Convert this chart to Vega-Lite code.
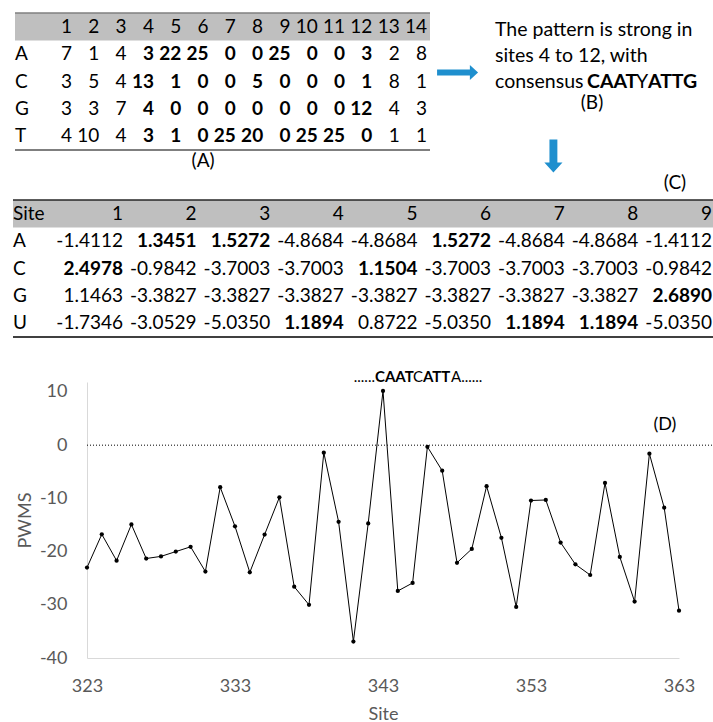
{
  "$schema": "https://vega.github.io/schema/vega-lite/v6.json",
  "width": 592,
  "height": 276,
  "padding": {"left": 87, "top": 382, "right": 34, "bottom": 64},
  "autosize": {"type": "none"},
  "background": "#ffffff",
  "config": {
    "view": {"stroke": null},
    "font": "Lato",
    "text": {"font": "Lato", "fontSize": 19, "color": "#000000"},
    "locale": {"number": {"decimal": ".", "thousands": ",", "grouping": [3], "currency": ["$", ""], "minus": "-"}}
  },
  "datasets": {
    "one": [{"k": 1}],
    "tA": [
      {"r":"A","c":1,"v":7},{"r":"A","c":2,"v":1},{"r":"A","c":3,"v":4},{"r":"A","c":4,"v":3},{"r":"A","c":5,"v":22},{"r":"A","c":6,"v":25},{"r":"A","c":7,"v":0},{"r":"A","c":8,"v":0},{"r":"A","c":9,"v":25},{"r":"A","c":10,"v":0},{"r":"A","c":11,"v":0},{"r":"A","c":12,"v":3},{"r":"A","c":13,"v":2},{"r":"A","c":14,"v":8},
      {"r":"C","c":1,"v":3},{"r":"C","c":2,"v":5},{"r":"C","c":3,"v":4},{"r":"C","c":4,"v":13},{"r":"C","c":5,"v":1},{"r":"C","c":6,"v":0},{"r":"C","c":7,"v":0},{"r":"C","c":8,"v":5},{"r":"C","c":9,"v":0},{"r":"C","c":10,"v":0},{"r":"C","c":11,"v":0},{"r":"C","c":12,"v":1},{"r":"C","c":13,"v":8},{"r":"C","c":14,"v":1},
      {"r":"G","c":1,"v":3},{"r":"G","c":2,"v":3},{"r":"G","c":3,"v":7},{"r":"G","c":4,"v":4},{"r":"G","c":5,"v":0},{"r":"G","c":6,"v":0},{"r":"G","c":7,"v":0},{"r":"G","c":8,"v":0},{"r":"G","c":9,"v":0},{"r":"G","c":10,"v":0},{"r":"G","c":11,"v":0},{"r":"G","c":12,"v":12},{"r":"G","c":13,"v":4},{"r":"G","c":14,"v":3},
      {"r":"T","c":1,"v":4},{"r":"T","c":2,"v":10},{"r":"T","c":3,"v":4},{"r":"T","c":4,"v":3},{"r":"T","c":5,"v":1},{"r":"T","c":6,"v":0},{"r":"T","c":7,"v":25},{"r":"T","c":8,"v":20},{"r":"T","c":9,"v":0},{"r":"T","c":10,"v":25},{"r":"T","c":11,"v":25},{"r":"T","c":12,"v":0},{"r":"T","c":13,"v":1},{"r":"T","c":14,"v":1}
    ],
    "tC": [
      {"r":"A","c":1,"v":-1.4112},{"r":"A","c":2,"v":1.3451},{"r":"A","c":3,"v":1.5272},{"r":"A","c":4,"v":-4.8684},{"r":"A","c":5,"v":-4.8684},{"r":"A","c":6,"v":1.5272},{"r":"A","c":7,"v":-4.8684},{"r":"A","c":8,"v":-4.8684},{"r":"A","c":9,"v":-1.4112},
      {"r":"C","c":1,"v":2.4978},{"r":"C","c":2,"v":-0.9842},{"r":"C","c":3,"v":-3.7003},{"r":"C","c":4,"v":-3.7003},{"r":"C","c":5,"v":1.1504},{"r":"C","c":6,"v":-3.7003},{"r":"C","c":7,"v":-3.7003},{"r":"C","c":8,"v":-3.7003},{"r":"C","c":9,"v":-0.9842},
      {"r":"G","c":1,"v":1.1463},{"r":"G","c":2,"v":-3.3827},{"r":"G","c":3,"v":-3.3827},{"r":"G","c":4,"v":-3.3827},{"r":"G","c":5,"v":-3.3827},{"r":"G","c":6,"v":-3.3827},{"r":"G","c":7,"v":-3.3827},{"r":"G","c":8,"v":-3.3827},{"r":"G","c":9,"v":2.6890},
      {"r":"U","c":1,"v":-1.7346},{"r":"U","c":2,"v":-3.0529},{"r":"U","c":3,"v":-5.0350},{"r":"U","c":4,"v":1.1894},{"r":"U","c":5,"v":0.8722},{"r":"U","c":6,"v":-5.0350},{"r":"U","c":7,"v":1.1894},{"r":"U","c":8,"v":1.1894},{"r":"U","c":9,"v":-5.0350}
    ],
    "txtB": [
      {"line": 1, "text": "The pattern is strong in"},
      {"line": 2, "text": "sites 4 to 12, with"},
      {"line": 3, "text": "consensus"}
    ],
    "pwms": [
      {"site":323,"v":-23.0},{"site":324,"v":-16.75},{"site":325,"v":-21.7},{"site":326,"v":-14.9},{"site":327,"v":-21.3},
      {"site":328,"v":-20.9},{"site":329,"v":-20.0},{"site":330,"v":-19.1},{"site":331,"v":-23.75},{"site":332,"v":-7.9},
      {"site":333,"v":-15.25},{"site":334,"v":-23.9},{"site":335,"v":-16.8},{"site":336,"v":-9.8},{"site":337,"v":-26.6},
      {"site":338,"v":-30.0},{"site":339,"v":-1.4},{"site":340,"v":-14.4},{"site":341,"v":-36.9},{"site":342,"v":-14.7},
      {"site":343,"v":10.2},{"site":344,"v":-27.4},{"site":345,"v":-25.9},{"site":346,"v":-0.3},{"site":347,"v":-4.8},
      {"site":348,"v":-22.1},{"site":349,"v":-19.5},{"site":350,"v":-7.7},{"site":351,"v":-17.4},{"site":352,"v":-30.4},
      {"site":353,"v":-10.4},{"site":354,"v":-10.3},{"site":355,"v":-18.3},{"site":356,"v":-22.4},{"site":357,"v":-24.4},
      {"site":358,"v":-7.1},{"site":359,"v":-21.0},{"site":360,"v":-29.4},{"site":361,"v":-1.6},{"site":362,"v":-11.75},
      {"site":363,"v":-31.1}
    ]
  },
  "layer": [
    {"data": {"name": "pwms"}, "mark": {"type": "line", "color": "#000000", "strokeWidth": 1},
     "encoding": {
       "x": {"field": "site", "type": "quantitative", "scale": {"domain": [323, 363], "nice": false, "zero": false},
             "axis": {"orient": "bottom", "values": [323, 333, 343, 353, 363], "grid": false, "ticks": false, "tickSize": 0,
                      "labelFontSize": 18, "labelColor": "#595959", "labelPadding": 28, "labelBaseline": "middle", "labelFlush": false, "labelOverlap": false,
                      "domainColor": "#d9d9d9", "domainWidth": 1,
                      "title": "Site", "titleFontSize": 18, "titleColor": "#595959", "titleFontWeight": "normal",
                      "titleX": 296, "titleY": 56, "titleBaseline": "middle", "titleAlign": "center"}},
       "y": {"field": "v", "type": "quantitative", "scale": {"domain": [-40, 11.875], "nice": false, "zero": false},
             "axis": {"orient": "left", "values": [-40, -30, -20, -10, 0, 10], "grid": false, "ticks": false, "tickSize": 0,
                      "labelFontSize": 18, "labelColor": "#595959", "labelPadding": 20, "labelFlush": false, "labelOverlap": false,
                      "domainColor": "#d9d9d9", "domainWidth": 1,
                      "title": "PWMS", "titleFontSize": 18, "titleColor": "#595959", "titleFontWeight": "normal",
                      "titleX": -62, "titleY": 138, "titleAngle": 270, "titleBaseline": "middle", "titleAlign": "center"}}}},
    {"data": {"name": "pwms"}, "mark": {"type": "point", "filled": true, "opacity": 1, "color": "#000000", "size": 18},
     "encoding": {
       "x": {"field": "site", "type": "quantitative", "scale": {"domain": [323, 363], "nice": false, "zero": false}, "axis": null},
       "y": {"field": "v", "type": "quantitative", "scale": {"domain": [-40, 11.875], "nice": false, "zero": false}, "axis": null}}},
    {"data": {"name": "one"}, "mark": {"type": "rule", "color": "#000000", "strokeWidth": 1, "strokeDash": [1, 2]},
     "encoding": {
       "x": {"datum": 323, "type": "quantitative", "scale": {"domain": [323, 363], "nice": false, "zero": false}, "axis": null},
       "x2": {"datum": 365.4},
       "y": {"datum": 0, "type": "quantitative", "scale": {"domain": [-40, 11.875], "nice": false, "zero": false}, "axis": null}}},
    {
      "layer": [
        {"data": {"name": "one"}, "mark": {"type": "text", "text": "......", "align": "right", "baseline": "middle", "fontSize": 15, "dx": -8},
         "encoding": {
           "x": {"datum": 343, "type": "quantitative", "scale": {"domain": [323, 363], "nice": false, "zero": false}, "axis": null},
           "y": {"datum": 12.75, "type": "quantitative", "scale": {"domain": [-40, 11.875], "nice": false, "zero": false}, "axis": null}}},
        {"data": {"name": "one"}, "mark": {"type": "text", "text": "CAAT", "fontWeight": "bold", "align": "left", "baseline": "middle", "fontSize": 15, "dx": -8},
         "encoding": {
           "x": {"datum": 343, "type": "quantitative", "scale": {"domain": [323, 363], "nice": false, "zero": false}, "axis": null},
           "y": {"datum": 12.75, "type": "quantitative", "scale": {"domain": [-40, 11.875], "nice": false, "zero": false}, "axis": null}}},
        {"data": {"name": "one"}, "mark": {"type": "text", "text": "C", "align": "left", "baseline": "middle", "fontSize": 15, "dx": 30},
         "encoding": {
           "x": {"datum": 343, "type": "quantitative", "scale": {"domain": [323, 363], "nice": false, "zero": false}, "axis": null},
           "y": {"datum": 12.75, "type": "quantitative", "scale": {"domain": [-40, 11.875], "nice": false, "zero": false}, "axis": null}}},
        {"data": {"name": "one"}, "mark": {"type": "text", "text": "ATT", "fontWeight": "bold", "align": "left", "baseline": "middle", "fontSize": 15, "dx": 40},
         "encoding": {
           "x": {"datum": 343, "type": "quantitative", "scale": {"domain": [323, 363], "nice": false, "zero": false}, "axis": null},
           "y": {"datum": 12.75, "type": "quantitative", "scale": {"domain": [-40, 11.875], "nice": false, "zero": false}, "axis": null}}},
        {"data": {"name": "one"}, "mark": {"type": "text", "text": "A......", "align": "left", "baseline": "middle", "fontSize": 15, "dx": 68},
         "encoding": {
           "x": {"datum": 343, "type": "quantitative", "scale": {"domain": [323, 363], "nice": false, "zero": false}, "axis": null},
           "y": {"datum": 12.75, "type": "quantitative", "scale": {"domain": [-40, 11.875], "nice": false, "zero": false}, "axis": null}}},
        {"data": {"name": "one"}, "mark": {"type": "text", "text": "(D)", "align": "center", "baseline": "middle", "fontSize": 18},
         "encoding": {
           "x": {"datum": 362.05, "type": "quantitative", "scale": {"domain": [323, 363], "nice": false, "zero": false}, "axis": null},
           "y": {"datum": 3.75, "type": "quantitative", "scale": {"domain": [-40, 11.875], "nice": false, "zero": false}, "axis": null}}}
      ]
    },
    {
      "layer": [
        {"data": {"name": "one"}, "mark": {"type": "rect", "color": "#bfbfbf"},
         "encoding": {
           "x": {"datum": -1.087, "type": "quantitative", "scale": {"domain": [1, 14], "range": [-15, 340], "nice": false, "zero": false}, "axis": null},
           "x2": {"datum": 14.11},
           "y": {"datum": "h", "type": "nominal", "scale": {"type": "band", "domain": ["h","A","C","G","T"], "range": [-369, -232], "paddingInner": 0, "paddingOuter": 0}, "axis": null}}},
        {"data": {"name": "one"}, "mark": {"type": "rule", "color": "#7f7f7f", "strokeWidth": 1.5},
         "encoding": {
           "x": {"datum": -1.087, "type": "quantitative", "scale": {"domain": [1, 14], "range": [-15, 340], "nice": false, "zero": false}, "axis": null},
           "x2": {"datum": 14.11},
           "y": {"datum": "h", "type": "nominal", "bandPosition": 0, "scale": {"type": "band", "domain": ["h","A","C","G","T"], "range": [-369, -232], "paddingInner": 0, "paddingOuter": 0}, "axis": null}}},
        {"data": {"name": "one"}, "mark": {"type": "rule", "color": "#7f7f7f", "strokeWidth": 2},
         "encoding": {
           "x": {"datum": -1.087, "type": "quantitative", "scale": {"domain": [1, 14], "range": [-15, 340], "nice": false, "zero": false}, "axis": null},
           "x2": {"datum": 14.11},
           "y": {"datum": "T", "type": "nominal", "bandPosition": 1, "scale": {"type": "band", "domain": ["h","A","C","G","T"], "range": [-369, -232], "paddingInner": 0, "paddingOuter": 0}, "axis": null}}},
        {"data": {"name": "tA"}, "transform": [{"aggregate": [{"op": "count", "as": "n"}], "groupby": ["c"]}],
         "mark": {"type": "text", "align": "right", "baseline": "middle"},
         "encoding": {
           "x": {"field": "c", "type": "quantitative", "scale": {"domain": [1, 14], "range": [-15, 340], "nice": false, "zero": false}, "axis": null},
           "y": {"datum": "h", "type": "nominal", "scale": {"type": "band", "domain": ["h","A","C","G","T"], "range": [-369, -232], "paddingInner": 0, "paddingOuter": 0}, "axis": null},
           "text": {"field": "c", "type": "quantitative"}}},
        {"data": {"name": "tA"}, "transform": [{"aggregate": [{"op": "count", "as": "n"}], "groupby": ["r"]}],
         "mark": {"type": "text", "align": "left", "baseline": "middle"},
         "encoding": {
           "x": {"datum": -1.087, "type": "quantitative", "scale": {"domain": [1, 14], "range": [-15, 340], "nice": false, "zero": false}, "axis": null},
           "y": {"field": "r", "type": "nominal", "scale": {"type": "band", "domain": ["h","A","C","G","T"], "range": [-369, -232], "paddingInner": 0, "paddingOuter": 0}, "axis": null},
           "text": {"field": "r", "type": "nominal"}}},
        {"data": {"name": "tA"}, "transform": [{"filter": "datum.c < 4 || datum.c > 12"}],
         "mark": {"type": "text", "align": "right", "baseline": "middle"},
         "encoding": {
           "x": {"field": "c", "type": "quantitative", "scale": {"domain": [1, 14], "range": [-15, 340], "nice": false, "zero": false}, "axis": null},
           "y": {"field": "r", "type": "nominal", "scale": {"type": "band", "domain": ["h","A","C","G","T"], "range": [-369, -232], "paddingInner": 0, "paddingOuter": 0}, "axis": null},
           "text": {"field": "v", "type": "quantitative"}}},
        {"data": {"name": "tA"}, "transform": [{"filter": "datum.c >= 4 && datum.c <= 12"}],
         "mark": {"type": "text", "align": "right", "baseline": "middle", "fontWeight": "bold"},
         "encoding": {
           "x": {"field": "c", "type": "quantitative", "scale": {"domain": [1, 14], "range": [-15, 340], "nice": false, "zero": false}, "axis": null},
           "y": {"field": "r", "type": "nominal", "scale": {"type": "band", "domain": ["h","A","C","G","T"], "range": [-369, -232], "paddingInner": 0, "paddingOuter": 0}, "axis": null},
           "text": {"field": "v", "type": "quantitative"}}},
        {"data": {"name": "one"}, "mark": {"type": "text", "text": "(A)", "align": "center", "baseline": "middle", "dy": 11},
         "encoding": {
           "x": {"datum": 5.8, "type": "quantitative", "scale": {"domain": [1, 14], "range": [-15, 340], "nice": false, "zero": false}, "axis": null},
           "y": {"datum": "T", "type": "nominal", "bandPosition": 1, "scale": {"type": "band", "domain": ["h","A","C","G","T"], "range": [-369, -232], "paddingInner": 0, "paddingOuter": 0}, "axis": null}}}
      ]
    },
    {
      "layer": [
        {"data": {"name": "txtB"}, "mark": {"type": "text", "align": "left", "baseline": "middle", "fontSize": 19.5},
         "encoding": {
           "x": {"datum": 0, "type": "quantitative", "scale": {"domain": [0, 1], "range": [408, 606], "nice": false, "zero": false}, "axis": null},
           "y": {"field": "line", "type": "quantitative", "scale": {"domain": [1, 3], "range": [-352, -300], "nice": false, "zero": false}, "axis": null},
           "text": {"field": "text", "type": "nominal"}}},
        {"data": {"name": "one"}, "mark": {"type": "text", "text": "CAAT", "fontWeight": "bold", "align": "left", "baseline": "middle", "fontSize": 19.5, "dx": 92},
         "encoding": {
           "x": {"datum": 0, "type": "quantitative", "scale": {"domain": [0, 1], "range": [408, 606], "nice": false, "zero": false}, "axis": null},
           "y": {"datum": 3, "type": "quantitative", "scale": {"domain": [1, 3], "range": [-352, -300], "nice": false, "zero": false}, "axis": null}}},
        {"data": {"name": "one"}, "mark": {"type": "text", "text": "Y", "align": "left", "baseline": "middle", "fontSize": 19.5, "dx": 141},
         "encoding": {
           "x": {"datum": 0, "type": "quantitative", "scale": {"domain": [0, 1], "range": [408, 606], "nice": false, "zero": false}, "axis": null},
           "y": {"datum": 3, "type": "quantitative", "scale": {"domain": [1, 3], "range": [-352, -300], "nice": false, "zero": false}, "axis": null}}},
        {"data": {"name": "one"}, "mark": {"type": "text", "text": "ATTG", "fontWeight": "bold", "align": "left", "baseline": "middle", "fontSize": 19.5, "dx": 153},
         "encoding": {
           "x": {"datum": 0, "type": "quantitative", "scale": {"domain": [0, 1], "range": [408, 606], "nice": false, "zero": false}, "axis": null},
           "y": {"datum": 3, "type": "quantitative", "scale": {"domain": [1, 3], "range": [-352, -300], "nice": false, "zero": false}, "axis": null}}},
        {"data": {"name": "one"}, "mark": {"type": "text", "text": "(B)", "align": "center", "baseline": "middle", "fontSize": 19},
         "encoding": {
           "x": {"datum": 0.49, "type": "quantitative", "scale": {"domain": [0, 1], "range": [408, 606], "nice": false, "zero": false}, "axis": null},
           "y": {"datum": 3.8, "type": "quantitative", "scale": {"domain": [1, 3], "range": [-352, -300], "nice": false, "zero": false}, "axis": null}}},
        {"data": {"name": "one"}, "mark": {"type": "point", "filled": true, "opacity": 1, "color": "#1f8fce", "size": 1681, "shape": "M-1,-0.15 L0.6,-0.15 L0.6,-0.37 L1,0 L0.6,0.37 L0.6,0.15 L-1,0.15 Z"},
         "encoding": {
           "x": {"datum": -0.189, "type": "quantitative", "scale": {"domain": [0, 1], "range": [408, 606], "nice": false, "zero": false}, "axis": null},
           "y": {"datum": 2.635, "type": "quantitative", "scale": {"domain": [1, 3], "range": [-352, -300], "nice": false, "zero": false}, "axis": null}}},
        {"data": {"name": "one"}, "mark": {"type": "point", "filled": true, "opacity": 1, "color": "#1f8fce", "size": 1089, "shape": "M-0.24,-1 L0.24,-1 L0.24,0.4 L0.55,0.4 L0,1 L-0.55,0.4 L-0.24,0.4 Z"},
         "encoding": {
           "x": {"datum": 0.295, "type": "quantitative", "scale": {"domain": [0, 1], "range": [408, 606], "nice": false, "zero": false}, "axis": null},
           "y": {"datum": 5.846, "type": "quantitative", "scale": {"domain": [1, 3], "range": [-352, -300], "nice": false, "zero": false}, "axis": null}}}
      ]
    },
    {
      "layer": [
        {"data": {"name": "one"}, "mark": {"type": "rect", "color": "#bfbfbf"},
         "encoding": {
           "x": {"datum": -0.494, "type": "quantitative", "scale": {"domain": [1, 9], "range": [36, 625], "nice": false, "zero": false}, "axis": null},
           "x2": {"datum": 9.02},
           "y": {"datum": "h", "type": "nominal", "scale": {"type": "band", "domain": ["h","A","C","G","U"], "range": [-182, -45], "paddingInner": 0, "paddingOuter": 0}, "axis": null}}},
        {"data": {"name": "one"}, "mark": {"type": "rule", "color": "#262626", "strokeWidth": 1.3},
         "encoding": {
           "x": {"datum": -0.494, "type": "quantitative", "scale": {"domain": [1, 9], "range": [36, 625], "nice": false, "zero": false}, "axis": null},
           "x2": {"datum": 9.02},
           "y": {"datum": "h", "type": "nominal", "bandPosition": 0, "scale": {"type": "band", "domain": ["h","A","C","G","U"], "range": [-182, -45], "paddingInner": 0, "paddingOuter": 0}, "axis": null}}},
        {"data": {"name": "one"}, "mark": {"type": "rule", "color": "#000000", "strokeWidth": 1.5},
         "encoding": {
           "x": {"datum": -0.494, "type": "quantitative", "scale": {"domain": [1, 9], "range": [36, 625], "nice": false, "zero": false}, "axis": null},
           "x2": {"datum": 9.02},
           "y": {"datum": "U", "type": "nominal", "bandPosition": 1, "scale": {"type": "band", "domain": ["h","A","C","G","U"], "range": [-182, -45], "paddingInner": 0, "paddingOuter": 0}, "axis": null}}},
        {"data": {"name": "tC"}, "transform": [{"aggregate": [{"op": "count", "as": "n"}], "groupby": ["c"]}],
         "mark": {"type": "text", "align": "right", "baseline": "middle"},
         "encoding": {
           "x": {"field": "c", "type": "quantitative", "scale": {"domain": [1, 9], "range": [36, 625], "nice": false, "zero": false}, "axis": null},
           "y": {"datum": "h", "type": "nominal", "scale": {"type": "band", "domain": ["h","A","C","G","U"], "range": [-182, -45], "paddingInner": 0, "paddingOuter": 0}, "axis": null},
           "text": {"field": "c", "type": "quantitative"}}},
        {"data": {"name": "one"}, "mark": {"type": "text", "text": "Site", "align": "left", "baseline": "middle"},
         "encoding": {
           "x": {"datum": -0.494, "type": "quantitative", "scale": {"domain": [1, 9], "range": [36, 625], "nice": false, "zero": false}, "axis": null},
           "y": {"datum": "h", "type": "nominal", "scale": {"type": "band", "domain": ["h","A","C","G","U"], "range": [-182, -45], "paddingInner": 0, "paddingOuter": 0}, "axis": null}}},
        {"data": {"name": "tC"}, "transform": [{"aggregate": [{"op": "count", "as": "n"}], "groupby": ["r"]}],
         "mark": {"type": "text", "align": "left", "baseline": "middle"},
         "encoding": {
           "x": {"datum": -0.494, "type": "quantitative", "scale": {"domain": [1, 9], "range": [36, 625], "nice": false, "zero": false}, "axis": null},
           "y": {"field": "r", "type": "nominal", "scale": {"type": "band", "domain": ["h","A","C","G","U"], "range": [-182, -45], "paddingInner": 0, "paddingOuter": 0}, "axis": null},
           "text": {"field": "r", "type": "nominal"}}},
        {"data": {"name": "tC"}, "transform": [{"joinaggregate": [{"op": "max", "field": "v", "as": "mx"}], "groupby": ["c"]}, {"filter": "datum.v < datum.mx"}],
         "mark": {"type": "text", "align": "right", "baseline": "middle"},
         "encoding": {
           "x": {"field": "c", "type": "quantitative", "scale": {"domain": [1, 9], "range": [36, 625], "nice": false, "zero": false}, "axis": null},
           "y": {"field": "r", "type": "nominal", "scale": {"type": "band", "domain": ["h","A","C","G","U"], "range": [-182, -45], "paddingInner": 0, "paddingOuter": 0}, "axis": null},
           "text": {"field": "v", "type": "quantitative", "format": ".4f"}}},
        {"data": {"name": "tC"}, "transform": [{"joinaggregate": [{"op": "max", "field": "v", "as": "mx"}], "groupby": ["c"]}, {"filter": "datum.v == datum.mx"}],
         "mark": {"type": "text", "align": "right", "baseline": "middle", "fontWeight": "bold"},
         "encoding": {
           "x": {"field": "c", "type": "quantitative", "scale": {"domain": [1, 9], "range": [36, 625], "nice": false, "zero": false}, "axis": null},
           "y": {"field": "r", "type": "nominal", "scale": {"type": "band", "domain": ["h","A","C","G","U"], "range": [-182, -45], "paddingInner": 0, "paddingOuter": 0}, "axis": null},
           "text": {"field": "v", "type": "quantitative", "format": ".4f"}}},
        {"data": {"name": "one"}, "mark": {"type": "text", "text": "(C)", "align": "center", "baseline": "middle", "dy": -17},
         "encoding": {
           "x": {"datum": 8.497, "type": "quantitative", "scale": {"domain": [1, 9], "range": [36, 625], "nice": false, "zero": false}, "axis": null},
           "y": {"datum": "h", "type": "nominal", "bandPosition": 0, "scale": {"type": "band", "domain": ["h","A","C","G","U"], "range": [-182, -45], "paddingInner": 0, "paddingOuter": 0}, "axis": null}}}
      ]
    }
  ],
  "resolve": {"scale": {"x": "independent", "y": "independent"}, "axis": {"x": "independent", "y": "independent"}}
}
